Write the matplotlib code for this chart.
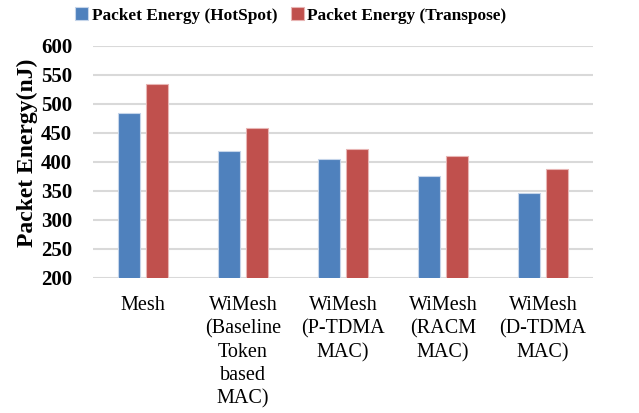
import numpy as np
import matplotlib.pyplot as plt

categories = ["Mesh", "WiMesh\n(Baseline\nToken\nbased\nMAC)", "WiMesh\n(P-TDMA\nMAC)",
              "WiMesh\n(RACM\nMAC)", "WiMesh\n(D-TDMA\nMAC)"]
hotspot = [485, 418, 405, 375, 346]
transpose = [535, 458, 423, 411, 387]
yticks = [200, 250, 300, 350, 400, 450, 500, 550, 600]

plt.rcParams['font.family'] = ['Liberation Serif', 'DejaVu Serif']

fig = plt.figure(figsize=(6.39, 4.13), dpi=100)
ax = fig.add_axes([0.1455, 0.327, 0.7825, 0.562])

x = np.arange(len(categories))
w = 0.22
ax.bar(x - 0.14, hotspot, w, color='#4F81BD', edgecolor='#c5d5ea', linewidth=0.8,
       label='Packet Energy (HotSpot)', zorder=3)
ax.bar(x + 0.14, transpose, w, color='#C0504D', edgecolor='#e8b5b4', linewidth=0.8,
       label='Packet Energy (Transpose)', zorder=3)

ax.set_xlim(-0.5, len(categories) - 0.5)
ax.set_ylim(200, 600)
ax.set_yticks(yticks)
ax.set_yticklabels([str(t) for t in yticks], fontsize=15, fontweight='bold')
ax.set_xticks(x)
ax.set_xticklabels(categories, fontsize=14.5, linespacing=1.3, va='top')
ax.tick_params(axis='both', length=0)
ax.tick_params(axis='y', pad=15)
ax.tick_params(axis='x', pad=13)
ax.grid(axis='y', color='#d9d9d9', linewidth=1.5, zorder=0)
for s in ax.spines.values():
    s.set_visible(False)

ax.set_ylabel('Packet Energy(nJ)', fontsize=17, fontweight='bold')
ax.yaxis.set_label_coords(-0.11, 0.539)

leg = fig.legend(loc='upper center', bbox_to_anchor=(0.455, 1.02), ncol=2, frameon=False,
                 prop={'size': 12.4, 'weight': 'bold'}, handlelength=0.75, handleheight=0.75,
                 handletextpad=0.2, columnspacing=0.8)

fig.savefig('out.png', dpi=100)
